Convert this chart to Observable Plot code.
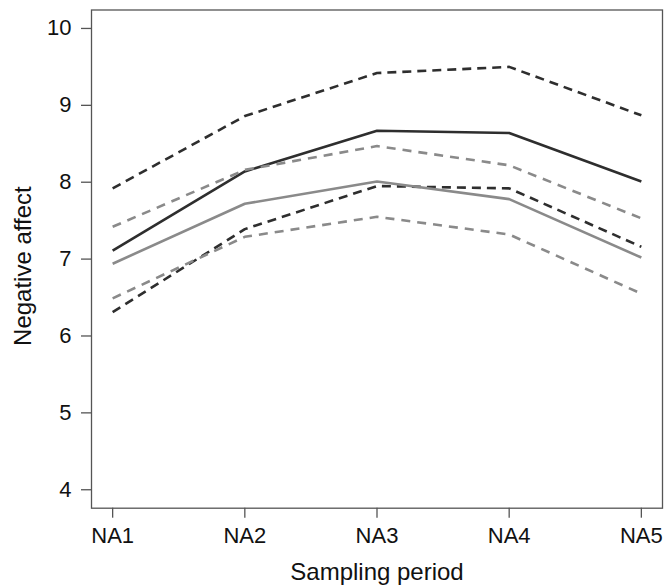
<!DOCTYPE html>
<html>
<head>
<meta charset="utf-8">
<script src="https://cdn.jsdelivr.net/npm/d3@7"></script>
<script src="https://cdn.jsdelivr.net/npm/@observablehq/plot@0.6"></script>
<style>
  html, body { margin: 0; padding: 0; background: #fff; }
  #chart svg { display: block; }
</style>
</head>
<body>
<div id="chart"></div>
<script>
const periods = ["NA1", "NA2", "NA3", "NA4", "NA5"];
const yTicks = [4, 5, 6, 7, 8, 9, 10];

const blackMean  = [7.11, 8.14, 8.67, 8.64, 8.01];
const blackUpper = [7.92, 8.86, 9.42, 9.50, 8.87];
const blackLower = [6.31, 7.39, 7.95, 7.92, 7.16];
const grayMean   = [6.94, 7.72, 8.01, 7.78, 7.02];
const grayUpper  = [7.42, 8.16, 8.47, 8.22, 7.53];
const grayLower  = [6.49, 7.29, 7.55, 7.32, 6.55];

const series = [
  {name: "blackUpper", values: blackUpper, color: "#2e2e2e", dash: "9,6"},
  {name: "blackMean",  values: blackMean,  color: "#2e2e2e", dash: null},
  {name: "blackLower", values: blackLower, color: "#2e2e2e", dash: "9,6"},
  {name: "grayUpper",  values: grayUpper,  color: "#8a8a8a", dash: "9,7"},
  {name: "grayMean",   values: grayMean,   color: "#8a8a8a", dash: null},
  {name: "grayLower",  values: grayLower,  color: "#8a8a8a", dash: "9,7"}
];

const lineMarks = series.map(s =>
  Plot.line(s.values.map((v, i) => ({x: i + 1, y: v})), {
    x: "x", y: "y",
    stroke: s.color,
    strokeWidth: 2.6,
    strokeDasharray: s.dash || undefined,
    strokeLinejoin: "round",
    strokeLinecap: "butt"
  })
);

const fontFam = "'Liberation Sans', Arial, Helvetica, sans-serif";

const chart = Plot.plot({
  width: 666,
  height: 587,
  marginLeft: 91,
  marginRight: 4,
  marginTop: 9.5,
  marginBottom: 79.3,
  style: {fontFamily: fontFam, fontSize: "22px", color: "#111", background: "#fff"},
  x: {type: "linear", domain: [0.84, 5.16]},
  y: {domain: [3.76, 10.24]},
  marks: [
    Plot.frame({stroke: "#555", strokeWidth: 1.3}),
    ...lineMarks,
    Plot.axisX({
      ticks: periods.map((p, i) => i + 1),
      tickFormat: d => periods[d - 1],
      tickSize: 10,
      tickPadding: 9,
      stroke: "#555",
      strokeWidth: 1.3,
      fontSize: 22,
      fill: "#111",
      label: null
    }),
    Plot.axisX({
      ticks: [],
      fontSize: 24,
      fill: "#111",
      label: "Sampling period",
      labelAnchor: "center",
      labelArrow: "none",
      labelOffset: 72
    }),
    Plot.axisY({
      ticks: yTicks,
      tickFormat: d => String(d),
      tickSize: 10,
      tickPadding: 10,
      stroke: "#555",
      strokeWidth: 1.3,
      fontSize: 22,
      fill: "#111",
      label: null
    }),
    Plot.axisY({
      ticks: [],
      fontSize: 24,
      fill: "#111",
      label: "Negative affect",
      labelAnchor: "center",
      labelArrow: "none",
      labelOffset: 78
    })
  ]
});
document.getElementById("chart").appendChild(chart);
const yl = chart.querySelector('[aria-label="y-axis label"]');
if (yl) {
  const prev = yl.getAttribute("transform") || "";
  yl.setAttribute("transform", ("translate(0,7) " + prev).trim());
}
</script>
</body>
</html>
